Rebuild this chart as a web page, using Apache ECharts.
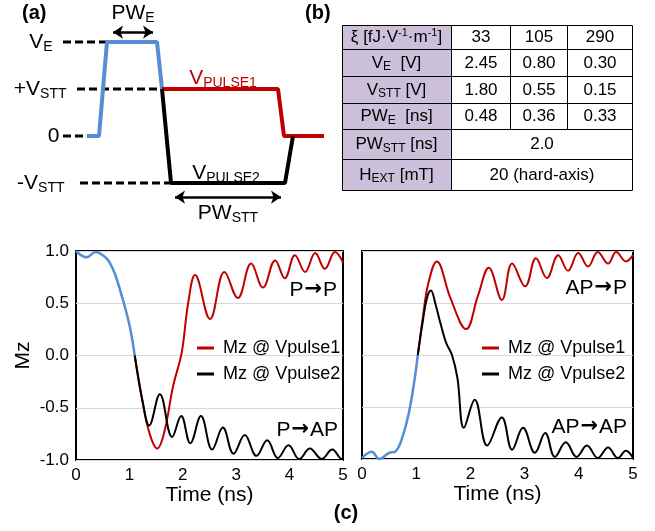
<!DOCTYPE html>
<html>
<head>
<meta charset="utf-8">
<script src="https://cdn.jsdelivr.net/npm/echarts@6/dist/echarts.min.js"></script>
<style>
  html, body { margin: 0; padding: 0; background: #fff; }
  #main { width: 655px; height: 531px; }
</style>
</head>
<body>
<div id="main"></div>
<script>
const FONT = '"Liberation Sans", Arial, sans-serif';
const RED = '#c00000';
const BLUE = '#558ed5';

// (a) pulse scheme, x in arbitrary time steps, y in levels (V_E=2, +V_STT=1, 0, -V_STT=-1)
const pulseInit = [[2.4, 0], [3.6, 0], [4.4, 2], [9.4, 2], [9.9, 1]];
const pulse1 = [[9.9, 1], [21.5, 1], [22.1, 0], [26.1, 0]];
const pulse2 = [[9.9, 1], [10.8, -1], [22.2, -1], [23.0, 0]];
const levelNames = ['{m|V}{s|E}', '{m|+V}{s|STT}', '{m|0}', '{m|-V}{s|STT}'];
const levelValues = [2, 1, 0, -1];
const levelStart = [0, 1.4, 0, 1.7];
const levelEnd = [4.4, 9.9, 2.4, 10.8];
const levelGap = [10, 10, 3, 15];

// (b) table
const rowLabels = [
  '{t|ξ [fJ·V}{p|-1}{t|·m}{p|-1}{t|]}',
  '{t|V}{b|E}{t|  [V]}',
  '{t|V}{b|STT}{t| [V]}',
  '{t|PW}{b|E}{t|  [ns]}',
  '{t|PW}{b|STT}{t| [ns]}',
  '{t|H}{b|EXT}{t| [mT]}'
];
const xiValues = ['33', '105', '290'];
const veValues = ['2.45', '0.80', '0.30'];
const vsttValues = ['1.80', '0.55', '0.15'];
const pweValues = ['0.48', '0.36', '0.33'];
const pwsttValue = ['2.0'];
const hextValue = ['20 (hard-axis)'];

// (c) Mz vs time (ns)
const ppInit = [[0, 1.0], [0.2, 0.94], [0.37, 0.99], [0.55, 0.94], [0.64, 0.88], [0.73, 0.78], [0.88, 0.53], [1.01, 0.27], [1.1, 0.0]];
const ppRed = [[1.1, 0.0], [1.25, -0.45], [1.38, -0.75], [1.52, -0.89], [1.65, -0.74], [1.82, -0.29], [1.98, 0.03], [2.1, 0.5], [2.23, 0.77],
  [2.51, 0.35], [2.78, 0.8], [3.03, 0.55], [3.28, 0.88], [3.5, 0.65], [3.73, 0.91], [3.91, 0.74], [4.1, 0.96], [4.29, 0.8],
  [4.48, 0.98], [4.66, 0.83], [4.85, 0.99], [5.0, 0.89]];
const ppBlack = [[1.1, 0.0], [1.25, -0.45], [1.37, -0.67], [1.57, -0.37], [1.8, -0.78], [1.97, -0.58], [2.14, -0.84], [2.34, -0.58],
  [2.55, -0.9], [2.75, -0.69], [2.95, -0.94], [3.16, -0.76], [3.38, -0.96], [3.58, -0.81], [3.78, -0.98], [3.98, -0.86],
  [4.18, -0.99], [4.38, -0.89], [4.6, -0.99], [4.8, -0.9], [4.98, -0.99], [5.0, -0.98]];
const apInit = [[0, -0.99], [0.18, -0.93], [0.32, -1.0], [0.5, -0.94], [0.61, -0.93], [0.74, -0.8], [0.89, -0.49], [1.03, 0.0]];
const apRed = [[1.03, 0.0], [1.12, 0.35], [1.22, 0.68], [1.38, 0.9], [1.63, 0.55], [1.92, 0.25], [2.14, 0.57], [2.34, 0.84],
  [2.58, 0.53], [2.77, 0.88], [3.01, 0.66], [3.21, 0.93], [3.41, 0.74], [3.62, 0.96], [3.8, 0.81], [3.99, 0.98],
  [4.17, 0.85], [4.35, 0.99], [4.54, 0.88], [4.69, 0.99], [4.87, 0.9], [5.0, 0.96]];
const apBlack = [[1.03, 0.0], [1.12, 0.32], [1.2, 0.55], [1.27, 0.62], [1.36, 0.48], [1.45, 0.3], [1.55, 0.12], [1.66, 0.0],
  [1.76, -0.22], [1.88, -0.7], [2.08, -0.43], [2.31, -0.87], [2.58, -0.6], [2.77, -0.91], [2.97, -0.7], [3.19, -0.94],
  [3.38, -0.75], [3.56, -0.98], [3.76, -0.84], [3.96, -0.98], [4.15, -0.87], [4.35, -0.99], [4.54, -0.89], [4.72, -0.99],
  [4.87, -0.92], [5.0, -0.99]];

const chart = echarts.init(document.getElementById('main'), null, { renderer: 'canvas' });

// rich styles for sub-scripted labels
const pulseRich = {
  m: { fontSize: 21, fontFamily: FONT, lineHeight: 24 },
  s: { fontSize: 14, fontFamily: FONT, lineHeight: 14, verticalAlign: 'bottom' }
};
const cellRich = {
  t: { fontSize: 17, fontFamily: FONT, fill: '#000', lineHeight: 20 },
  b: { fontSize: 12, fontFamily: FONT, fill: '#000', lineHeight: 14, verticalAlign: 'bottom' },
  p: { fontSize: 11, fontFamily: FONT, fill: '#000', lineHeight: 11, verticalAlign: 'top' }
};
const noteRich = {
  t: { fontSize: 21, fontFamily: FONT, fill: '#000' },
  a: { fontSize: 21, fontFamily: '"DejaVu Sans"', fontWeight: 'bold', fill: '#000', padding: [0, 1, 0, 1] }
};

// table built as graphic rects + texts
const colX = [342, 451, 510, 567, 632];
const rowY = [25, 49, 76, 103, 129, 159, 190];
const tableValues = [xiValues, veValues, vsttValues, pweValues, pwsttValue, hextValue];
const tableGraphic = [];
rowLabels.forEach((lab, r) => {
  const y0 = rowY[r] + 0.5;
  const h = rowY[r + 1] - rowY[r];
  tableGraphic.push({
    type: 'rect', silent: true,
    shape: { x: colX[0] + 0.5, y: y0, width: colX[1] - colX[0], height: h },
    style: { fill: '#ccc0da', stroke: '#000', lineWidth: 1 }
  });
  tableGraphic.push({
    type: 'text', silent: true,
    style: { text: lab, x: (colX[0] + colX[1]) / 2, y: y0 + h / 2, align: 'center', verticalAlign: 'middle', rich: cellRich }
  });
  const vals = tableValues[r];
  const spans = vals.length === 1 ? [[1, 4]] : [[1, 2], [2, 3], [3, 4]];
  vals.forEach((v, i) => {
    const x0 = colX[spans[i][0]] + 0.5;
    const w = colX[spans[i][1]] - colX[spans[i][0]];
    tableGraphic.push({
      type: 'rect', silent: true,
      shape: { x: x0, y: y0, width: w, height: h },
      style: { fill: '#fff', stroke: '#000', lineWidth: 1 }
    });
    tableGraphic.push({
      type: 'text', silent: true,
      style: { text: v, x: x0 + w / 2, y: y0 + h / 2, align: 'center', verticalAlign: 'middle',
        font: '17px ' + FONT, fill: '#000' }
    });
  });
});

function txt(text, x, y, size, align, bold) {
  return {
    type: 'text', silent: true,
    style: { text, x, y, align: align || 'left', verticalAlign: 'middle', fill: '#000',
      font: (bold ? 'bold ' : '') + size + 'px ' + FONT }
  };
}

// transition note like "P→AP"
function note(from, to, x, y) {
  return {
    type: 'text', silent: true,
    style: { text: '{t|' + from + '}{a|→}{t|' + to + '}', x, y, align: 'right', verticalAlign: 'middle', rich: noteRich }
  };
}

const leaderSeries = levelValues.map((lv, i) => ({
  type: 'line', xAxisIndex: 0, yAxisIndex: 0, symbol: 'none', silent: true,
  lineStyle: { color: '#000', width: 3, type: [8, 4] },
  data: [[levelStart[i], lv], [levelEnd[i], lv]],
  markPoint: {
    symbol: 'circle', symbolSize: 1, itemStyle: { color: 'rgba(0,0,0,0)' }, silent: true,
    data: [{
      coord: [levelStart[i], lv],
      label: { show: true, position: 'left', distance: levelGap[i], color: '#000', formatter: levelNames[i], rich: pulseRich }
    }]
  }
}));

function mzSeries(name, data, color, axis, width) {
  return {
    name, type: 'line', xAxisIndex: axis, yAxisIndex: axis, data,
    symbol: 'none', smooth: 0.4, silent: true,
    lineStyle: { color, width: width || 2 }, itemStyle: { color }
  };
}

function mzXAxis(idx) {
  return {
    type: 'value', gridIndex: idx, min: 0, max: 5, interval: 1,
    axisLine: { show: false }, axisTick: { show: false }, splitLine: { show: false },
    axisLabel: { fontSize: 17, fontFamily: FONT, color: '#000', margin: 7 },
    name: 'Time (ns)', nameLocation: 'middle', nameGap: 24,
    nameTextStyle: { fontSize: 21, fontFamily: FONT, color: '#000' }
  };
}

function mzLegend(left) {
  return {
    data: ['Mz @ Vpulse1', 'Mz @ Vpulse2'], orient: 'vertical', left, top: 334,
    icon: 'rect', itemWidth: 17, itemHeight: 3, itemGap: 8, selectedMode: false,
    textStyle: { fontSize: 18, fontFamily: FONT, color: '#000', padding: [0, 0, 0, 4], lineHeight: 18 }
  };
}

const option = {
  animation: false,
  backgroundColor: '#fff',
  grid: [
    { left: 63, top: 18.5, width: 261, height: 188 },
    { left: 76, top: 251, width: 267, height: 209, show: true, borderColor: '#000', borderWidth: 2 },
    { left: 362, top: 251, width: 271, height: 208, show: true, borderColor: '#000', borderWidth: 2 }
  ],
  xAxis: [
    { type: 'value', gridIndex: 0, min: 0, max: 26.1, show: false },
    mzXAxis(1),
    mzXAxis(2)
  ],
  yAxis: [
    { type: 'value', gridIndex: 0, min: -1.5, max: 2.5, show: false },
    {
      type: 'value', gridIndex: 1, min: -1, max: 1, interval: 0.5,
      axisLine: { show: false }, axisTick: { show: false },
      splitLine: { lineStyle: { color: '#d9d9d9', width: 1 } },
      axisLabel: { fontSize: 17, fontFamily: FONT, color: '#000', margin: 7, formatter: v => v.toFixed(1) },
      name: 'Mz', nameLocation: 'middle', nameGap: 42,
      nameTextStyle: { fontSize: 21, fontFamily: FONT, color: '#000' }
    },
    {
      type: 'value', gridIndex: 2, min: -1, max: 1, interval: 0.5,
      axisLine: { show: false }, axisTick: { show: false }, axisLabel: { show: false },
      splitLine: { lineStyle: { color: '#d9d9d9', width: 1 } }
    }
  ],
  legend: [mzLegend(192), mzLegend(477)],
  graphic: [
    txt('(a)', 22, 13, 20, 'left', true),
    txt('(b)', 305, 13, 20, 'left', true),
    txt('(c)', 346, 513, 20, 'center', true),
    note('P', 'P', 337, 290),
    note('P', 'AP', 338, 430),
    note('AP', 'P', 627, 288),
    note('AP', 'AP', 627, 427)
  ].concat(tableGraphic),
  series: [
    ...leaderSeries,
    {
      type: 'line', xAxisIndex: 0, yAxisIndex: 0, data: pulseInit, symbol: 'none', silent: true,
      lineStyle: { color: BLUE, width: 4 }
    },
    {
      type: 'line', xAxisIndex: 0, yAxisIndex: 0, data: pulse1, symbol: 'none', silent: true,
      lineStyle: { color: RED, width: 4 },
      markPoint: {
        symbol: 'circle', symbolSize: 1, itemStyle: { color: 'rgba(0,0,0,0)' }, silent: true,
        data: [{ coord: [16.0, 1.23], label: { show: true, position: 'inside', color: RED, formatter: '{m|V}{s|PULSE1}', rich: pulseRich } }]
      }
    },
    {
      type: 'line', xAxisIndex: 0, yAxisIndex: 0, data: pulse2, symbol: 'none', silent: true,
      lineStyle: { color: '#000', width: 4 },
      markPoint: {
        symbol: 'circle', symbolSize: 1, itemStyle: { color: 'rgba(0,0,0,0)' }, silent: true,
        data: [{ coord: [16.3, -0.79], label: { show: true, position: 'inside', color: '#000', formatter: '{m|V}{s|PULSE2}', rich: pulseRich } }]
      },
      markLine: {
        silent: true, symbol: ['arrow', 'arrow'], symbolSize: 10,
        lineStyle: { color: '#000', width: 2.5, type: 'solid' },
        label: { show: true, color: '#000', rich: pulseRich },
        data: [
          [{ coord: [5.0, 2.21], label: { position: 'middle', distance: 7, formatter: '{m|PW}{s|E}' } }, { coord: [9.0, 2.21] }],
          [{ coord: [11.2, -1.3], label: { position: 'insideMiddleBottom', distance: 4, formatter: '{m|PW}{s|STT}' } }, { coord: [21.8, -1.3] }]
        ]
      }
    },
    mzSeries('init-p', ppInit, BLUE, 1, 2.5),
    mzSeries('Mz @ Vpulse1', ppRed, RED, 1),
    mzSeries('Mz @ Vpulse2', ppBlack, '#000', 1),
    mzSeries('init-ap', apInit, BLUE, 2, 2.5),
    mzSeries('Mz @ Vpulse1', apRed, RED, 2),
    mzSeries('Mz @ Vpulse2', apBlack, '#000', 2)
  ]
};

chart.setOption(option);
</script>
</body>
</html>
